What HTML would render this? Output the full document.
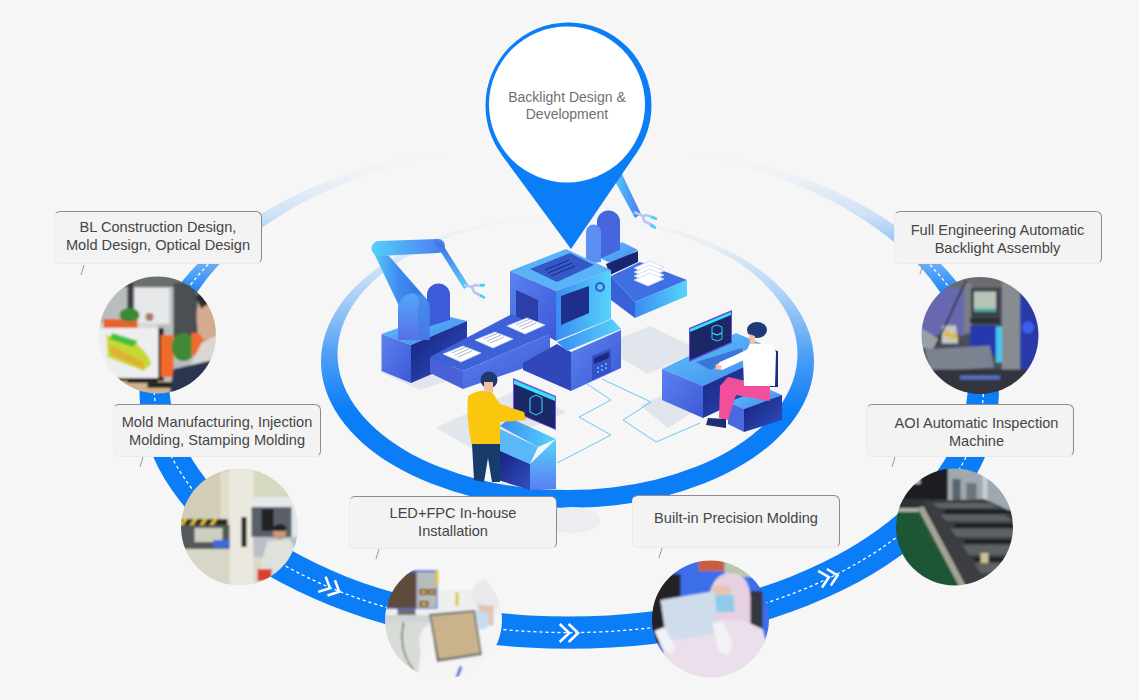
<!DOCTYPE html>
<html><head><meta charset="utf-8">
<style>
html,body{margin:0;padding:0;background:#f6f6f6;}
body{width:1139px;height:700px;overflow:hidden;position:relative;font-family:"Liberation Sans",sans-serif;}
svg{position:absolute;left:0;top:0;}
.lb{position:absolute;width:208px;height:53px;box-sizing:border-box;border-radius:6px;background:#f3f3f3;
border-top:1px solid #8c8c8c;border-right:1px solid #8c8c8c;border-left:1px solid #ebebeb;border-bottom:1px solid #ebebeb;
color:#454545;font-size:14.6px;line-height:18px;text-align:center;white-space:nowrap}
.tk{position:absolute;width:1px;height:10px;background:#999;transform:skewX(-17deg);}
</style></head><body>
<svg width="1139" height="700" viewBox="0 0 1139 700">
<defs>
<linearGradient id="gOut" gradientUnits="userSpaceOnUse" x1="0" y1="150" x2="0" y2="300">
<stop offset="0" stop-color="#0b7df7" stop-opacity="0"/>
<stop offset="0.167" stop-color="#0b7df7" stop-opacity="0.03"/>
<stop offset="0.433" stop-color="#0b7df7" stop-opacity="0.17"/>
<stop offset="0.733" stop-color="#0b7df7" stop-opacity="0.55"/>
<stop offset="1" stop-color="#0b7df7" stop-opacity="1"/>
</linearGradient>
<linearGradient id="gIn" gradientUnits="userSpaceOnUse" x1="0" y1="215" x2="0" y2="410">
<stop offset="0" stop-color="#0b7df7" stop-opacity="0"/>
<stop offset="0.16" stop-color="#0b7df7" stop-opacity="0.07"/>
<stop offset="0.36" stop-color="#0b7df7" stop-opacity="0.25"/>
<stop offset="0.52" stop-color="#0b7df7" stop-opacity="0.45"/>
<stop offset="0.7" stop-color="#0b7df7" stop-opacity="0.7"/>
<stop offset="1" stop-color="#0b7df7" stop-opacity="1"/>
</linearGradient>
<clipPath id="cDash"><rect x="0" y="250" width="1139" height="450"/></clipPath>
</defs>
<!-- outer band -->
<path fill="url(#gOut)" fill-rule="evenodd" d="M139.5,392.5 a429.7,256.3 0 1,0 859.4,0 a429.7,256.3 0 1,0 -859.4,0Z M168.9,379.6 a399.7,237 0 1,0 799.4,0 a399.7,237 0 1,0 -799.4,0Z"/>
<g clip-path="url(#cDash)">
<path fill="none" stroke="#fff" stroke-width="1.3" stroke-dasharray="3.2 2.8" d="M154.2,386 a414.7,246.6 0 1,0 829.4,0 a414.7,246.6 0 1,0 -829.4,0Z"/>
</g>
<!-- chevrons -->
<g fill="none" stroke="#fff" stroke-width="2.5">
<path transform="translate(569.2,633)" d="M-9.5,-9 L0,0 L-9.5,9 M-0.5,-9 L9,0 L-0.5,9"/>
<path transform="translate(330,588.2) rotate(26)" d="M-9,-8.5 L0,0 L-9,8.5"/>
<path transform="translate(339.3,591.8) rotate(26)" d="M-9,-8.5 L0,0 L-9,8.5"/>
<path transform="translate(828.9,577.2) rotate(-13)" d="M-9,-8.5 L0,0 L-9,8.5"/>
<path transform="translate(837.6,575.3) rotate(-13)" d="M-9,-8.5 L0,0 L-9,8.5"/>
</g>
<!-- inner ring -->
<path fill="url(#gIn)" fill-rule="evenodd" d="M321,361.5 a246.5,146.5 0 1,0 493,0 a246.5,146.5 0 1,0 -493,0Z M337.5,354 a230,136 0 1,0 460,0 a230,136 0 1,0 -460,0Z"/>
<!-- illustration placeholder -->
<g id="illu"><defs>
<linearGradient id="iTop" x1="0" y1="0" x2="1" y2="1"><stop offset="0" stop-color="#62c6fb"/><stop offset="1" stop-color="#3f86ee"/></linearGradient>
<linearGradient id="iLeft" x1="0" y1="0" x2="1" y2="1"><stop offset="0" stop-color="#5b83f0"/><stop offset="1" stop-color="#3d58d6"/></linearGradient>
<linearGradient id="iNavy" x1="0" y1="0" x2="1" y2="1"><stop offset="0" stop-color="#16207a"/><stop offset="1" stop-color="#3150c4"/></linearGradient>
<linearGradient id="iCyan" x1="0" y1="0" x2="1" y2="0"><stop offset="0" stop-color="#3a8cf2"/><stop offset="1" stop-color="#56d4fb"/></linearGradient>
<linearGradient id="iPil" x1="0" y1="0" x2="0" y2="1"><stop offset="0" stop-color="#4fa8f8"/><stop offset="1" stop-color="#5a6fe8"/></linearGradient>
<linearGradient id="iKio" x1="0" y1="0" x2="0" y2="1"><stop offset="0" stop-color="#56d4fb"/><stop offset="1" stop-color="#5a7df0"/></linearGradient>
<linearGradient id="iArmL" x1="0" y1="0" x2="1" y2="0"><stop offset="0" stop-color="#56cdfb"/><stop offset="0.45" stop-color="#3f8cf0"/><stop offset="1" stop-color="#2f6ce0"/></linearGradient>
<linearGradient id="iFore" x1="0" y1="0" x2="0" y2="1"><stop offset="0" stop-color="#3a6ee0"/><stop offset="1" stop-color="#5ad0fb"/></linearGradient>
<linearGradient id="iArm" x1="0" y1="0" x2="1" y2="0"><stop offset="0" stop-color="#55d0fb"/><stop offset="1" stop-color="#4a7af0"/></linearGradient>
</defs>
<!-- floor shadows -->
<g fill="#e1e6ec">
<polygon points="436,428 520,388 566,412 478,452"/>
<polygon points="600,346 650,326 700,350 648,374"/>
<polygon points="640,405 690,384 712,400 668,428"/>
<polygon points="380,372 420,390 450,380 400,360"/>
<ellipse cx="572" cy="520" rx="28" ry="13" fill="#ebedf0"/>
</g>
<!-- right robot -->
<polygon points="596,256 622,242 638,250 612,264" fill="url(#iTop)"/>
<polygon points="606,264 638,251 638,262 610,275" fill="#1a2572"/>
<path d="M597,260 V222 a11.5,11.5 0 0 1 23,0 V250 Z" fill="#4566dc"/>
<path d="M586,264 V232 a7.5,7.5 0 0 1 15,0 V262 Z" fill="#5b90f2"/>
<polygon points="612,176 622,174 641,214 635,218" fill="url(#iArm)"/>
<path d="M634,212 l9,4 M643,216 l3,-1 l9,3 M643,216 l1,5 l10,5" stroke="#b4c8f4" stroke-width="2.6" fill="none"/><path d="M651,217 l6,2 M650,225 l6,3" stroke="#48d0fa" stroke-width="2.6"/>
<!-- right conveyor -->
<polygon points="611,276 640,262 687,280 635,302" fill="#3f6fe2"/>
<polygon points="635,302 687,280 687,296 635,318" fill="url(#iCyan)"/>
<polygon points="611,276 635,302 635,318 611,300" fill="#3a60d8"/>
<g fill="#fff" stroke="#c9d4f4" stroke-width="0.8">
<polygon points="634,268 650,261 664,267 648,274"/>
<polygon points="634,272 650,265 664,271 648,278"/>
<polygon points="634,276 650,269 664,275 648,282"/>
<polygon points="634,280 650,273 664,279 648,286"/>
</g>
<!-- left robot base -->
<polygon points="381.5,334 438,314 467,321 411,345" fill="url(#iTop)"/>
<polygon points="381.5,334 411,345 411,383 381.5,371" fill="url(#iLeft)"/>
<polygon points="411,345 467,321 467,359 411,383" fill="url(#iNavy)"/>
<!-- left robot pillars -->
<path d="M427,327 V295 a11.5,11.5 0 0 1 23,0 V320 Z" fill="#3d5bd8"/>
<!-- left arm -->
<polygon points="372,249 389,256 430,303 399,306" fill="url(#iArmL)"/>
<path d="M398,340 V309 a15.8,15.8 0 0 1 31.6,0 V340 Z" fill="url(#iPil)"/>
<path d="M413.8,293.2 a15.8,15.8 0 0 1 15.8,15.8 V340 H418 V309 a12,12 0 0 0 -4.2,-15.8Z" fill="#3f7be8" opacity="0.6"/>
<path d="M379,241 L438,239 a7,7 0 0 1 0,14 L379,256 a7.5,7.5 0 0 1 0,-15Z" fill="url(#iArm)"/>
<polygon points="434,241 443,245 469,286 464,289" fill="url(#iFore)"/>
<path d="M464,285 l8,2 M472,287 l3,-2 l9,1 M472,287 l2,5 l9,5" stroke="#b4c8f4" stroke-width="2.6" fill="none"/><path d="M480,285 l5,0 M480,295 l5,3" stroke="#48d0fa" stroke-width="2.6"/>
<!-- central machine -->
<polygon points="510,271 566,249 611,270 556,291" fill="#5ab2f8"/>
<polygon points="510,271 556,291 556,341 510,315" fill="url(#iLeft)"/>
<polygon points="516,290 538,300 538,334 516,322" fill="#2c3fa8"/>
<polygon points="556,291 611,270 611,319 556,341" fill="url(#iCyan)"/>
<polygon points="530,269 570,253 594,265 557,282" fill="#3558c8"/>
<g stroke="#1a2a7a" stroke-width="1"><line x1="545" y1="270" x2="569" y2="260"/><line x1="548" y1="273" x2="572" y2="263"/><line x1="551" y1="276" x2="575" y2="266"/></g>
<polygon points="561,296 589,286 589,313 561,325" fill="#1e2f8a"/>
<circle cx="600" cy="287" r="4" fill="none" stroke="#3558c8" stroke-width="2"/>
<!-- left conveyor -->
<polygon points="430,357 512,314 550,334 463,371" fill="#3d62d8"/>
<polygon points="463,371 550,334 550,359 463,389" fill="url(#iLeft)"/>
<polygon points="430,357 463,371 463,389 430,373" fill="#4a60d8"/>
<g fill="#fff" stroke="#c9d4f4" stroke-width="0.8">
<polygon points="443,354 463,346 481,353 461,362"/>
<polygon points="475,340 495,332 513,339 493,348"/>
<polygon points="507,326 527,318 545,325 525,334"/>
</g>
<g stroke="#8a94b8" stroke-width="0.7">
<path d="M452,353 l14,-6 M455,355 l14,-6 M458,357 l14,-6"/>
<path d="M484,339 l14,-6 M487,341 l14,-6 M490,343 l14,-6"/>
<path d="M516,325 l14,-6 M519,327 l14,-6 M522,329 l14,-6"/>
</g>
<!-- console -->
<polygon points="523,363 557,344 571,352 571,391 523,370" fill="#2f47bb"/>
<polygon points="557,342 612,319 621,329 567,351" fill="url(#iCyan)"/>
<polygon points="571,352 621,330 621,368 571,391" fill="url(#iLeft)"/>
<polygon points="592,356 611,348 611,372 592,380" fill="#3550c8"/>
<polygon points="594,358 609,352 609,358 594,364" fill="#1b2a7a"/>
<g fill="#5fd6fb"><circle cx="598" cy="368" r="1"/><circle cx="602" cy="366" r="1"/><circle cx="606" cy="364" r="1"/><circle cx="598" cy="372" r="1"/><circle cx="602" cy="370" r="1"/><circle cx="606" cy="368" r="1"/></g>
<!-- cables -->
<g fill="none" stroke="#6cc6f6" stroke-width="1">
<path d="M587,384 L611,400 L579,417 L611,435 L557,463"/>
<path d="M602,379 L651,402 L623,420 L656,442 L700,423"/>
</g>
<!-- right desk -->
<polygon points="662,369 736,333 778,351 703,386" fill="url(#iTop)"/>
<polygon points="662,369 703,386 703,418 662,400" fill="url(#iLeft)"/>
<polygon points="703,386 778,351 778,383 703,418" fill="url(#iNavy)"/>
<polygon points="689,328 732,310 732,343 689,362" fill="#6a4ad8"/>
<polygon points="690,329 731,312 731,342 690,360" fill="#1b2868"/>
<polygon points="690,329 731,312 731,315 690,332" fill="#3ae0f8"/>
<polygon points="696,362 742,348 744,358 710,370" fill="#3a78d8"/>
<!-- stool -->
<polygon points="728,402 766,388 782,395 744,409" fill="url(#iTop)"/>
<polygon points="728,402 744,409 744,432 728,424" fill="#4a68e0"/>
<polygon points="744,409 782,395 782,420 744,432" fill="url(#iNavy)"/>
<rect x="770" y="351" width="8" height="36" fill="#1e2f80"/>
<!-- right person -->
<polygon points="770,386 770,401 736,395 728,420 719,418 720,386 728,377" fill="#f24f9a"/>
<path d="M708,418 l18,1 l0,9 l-20,-3 Z" fill="#1d2d6e"/>
<polygon points="750,343 772,345 776,352 775,386 744,386 743,360" fill="#fff"/>
<polygon points="750,348 744,360 722,370 716,366 720,362 738,354" fill="#fff"/>
<polygon points="716,364 722,366 721,370 715,369" fill="#f5c0a0"/>
<ellipse cx="757" cy="330" rx="10" ry="8" fill="#1e3a7a"/>
<polygon points="749,334 755,336 755,344 750,344" fill="#f5c0a0"/>
<g fill="none" stroke="#3ae0f8" stroke-width="0.9"><path d="M712,327 l5,-2 l5,2 v6 l-5,2 l-5,-2 Z M712,333 l5,2 l5,-2 v6 l-5,2 l-5,-2 Z"/></g>
<!-- kiosk + yellow person -->
<polygon points="500,426 510,418 556,439 538,447" fill="url(#iCyan)"/>
<polygon points="498,428 538,447 530,464 498,450" fill="#5ab8f8"/>
<polygon points="498,450 530,464 530,490 498,480" fill="url(#iNavy)"/>
<polygon points="530,464 556,439 556,489 530,490" fill="url(#iKio)"/>
<polygon points="513,378 556,396 556,430 513,412" fill="#7a50e0"/>
<polygon points="514,380 555,397 555,429 514,411" fill="#1b2868"/>
<polygon points="514,380 555,397 555,401 514,384" fill="#3ae0f8"/>
<path d="M536,395 l6,3 v14 l-6,3 l-6,-3 v-14 Z" fill="none" stroke="#3ae0f8" stroke-width="1"/>
<path d="M468,396 Q480,388 492,392 L500,404 L524,412 L526,420 L500,422 L500,446 L472,446 Q466,420 468,396Z" fill="#fbc70e"/>
<path d="M472,444 L500,444 L500,482 L492,482 L488,458 L484,482 L474,480Z" fill="#163c6c"/>
<circle cx="489" cy="380" r="8.5" fill="#1e3a70"/>
<rect x="484" y="382" width="9" height="10" fill="#f5c0a0"/>
</g>
<!-- pin -->
<circle cx="568.5" cy="105.5" r="83" fill="#0b7df7"/><polygon points="501.6,154.7 571,249 637,152.3" fill="#0b7df7"/>
<circle cx="567" cy="104.5" r="78" fill="#fff"/>
<text x="567" y="101.5" text-anchor="middle" font-family="Liberation Sans" font-size="14" fill="#707070">Backlight Design &amp;</text>
<text x="567" y="119" text-anchor="middle" font-family="Liberation Sans" font-size="14" fill="#707070">Development</text>
<!-- photos -->
<defs>
<clipPath id="cc"><circle cx="0" cy="0" r="58.5"/></clipPath>
<filter id="bl" x="-10%" y="-10%" width="120%" height="120%"><feGaussianBlur stdDeviation="1.2"/></filter>
</defs>
<!-- photo 1 office -->
<g transform="translate(157.5,335)" clip-path="url(#cc)"><g filter="url(#bl)">
<rect x="-60" y="-60" width="120" height="120" fill="#b9bdbd"/>
<rect x="-60" y="-60" width="120" height="12" fill="#6a6e70"/>
<rect x="-30" y="-52" width="6" height="45" fill="#3a3d40"/>
<rect x="-23" y="-47" width="35" height="36" fill="#e6e8ea"/>
<rect x="16" y="-52" width="24" height="55" fill="#4a4f52"/>
<rect x="40" y="-52" width="20" height="40" fill="#7a7e80"/>
<rect x="-60" y="-12" width="60" height="10" fill="#d8d8d4"/>
<rect x="-54" y="-16" width="34" height="9" fill="#e8602a"/>
<ellipse cx="-28" cy="-20" rx="10" ry="7" fill="#3a8a30"/>
<circle cx="-8" cy="-18" r="4" fill="#a57b60"/>
<rect x="-60" y="-7" width="63" height="52" fill="#eeeeee"/>
<rect x="1" y="-7" width="5" height="54" fill="#1a1a1a"/>
<rect x="-60" y="43" width="66" height="4" fill="#1a1a1a"/>
<polygon points="-51,0 -23,6 -10,20 -6,29 -14,36 -50,22" fill="#c8d830"/>
<polygon points="-45,-2 -20,6 -24,12 -48,4" fill="#40c040"/>
<polygon points="-48,10 -14,27 -14,34 -46,20" fill="#e0b030"/>
<rect x="3" y="0" width="13" height="42" fill="#f06a2a"/>
<ellipse cx="26" cy="12" rx="12" ry="14" fill="#3f8a35"/>
<rect x="34" y="-2" width="14" height="22" fill="#f06a2a"/>
<rect x="-40" y="46" width="60" height="14" fill="#cfb48e"/>
<rect x="-30" y="44" width="30" height="4" fill="#222"/>
<rect x="-10" y="47" width="26" height="6" fill="#2a2624"/>
<ellipse cx="50" cy="-18" rx="11" ry="24" fill="#d5ab90"/>
<path d="M38,-38 Q48,-48 60,-40 L60,-28 Q50,-34 44,-26 Z" fill="#2a2a2a"/>
<polygon points="44,8 60,0 60,40 30,36" fill="#d8d8d0"/>
<polygon points="16,34 60,24 60,60 12,60" fill="#2a3450"/>
</g></g>
<!-- photo 2 press -->
<g transform="translate(239.5,527)" clip-path="url(#cc)"><g filter="url(#bl)">
<rect x="-60" y="-60" width="120" height="120" fill="#dcd8c8"/>
<rect x="-60" y="-60" width="50" height="52" fill="#d2cdb6"/>
<rect x="-19" y="-56" width="9" height="50" fill="#e2dece"/>
<rect x="-10" y="-60" width="24" height="120" fill="#ebe9df"/>
<rect x="-60" y="-8" width="48" height="6" fill="#2a2a20"/>
<g fill="#e8c020"><polygon points="-56,-8 -52,-8 -56,-2 -60,-2"/><polygon points="-46,-8 -42,-8 -46,-2 -50,-2"/><polygon points="-36,-8 -32,-8 -36,-2 -40,-2"/><polygon points="-26,-8 -22,-8 -26,-2 -30,-2"/></g>
<rect x="-60" y="-2" width="50" height="24" fill="#55585a"/>
<rect x="-45" y="1" width="28" height="14" fill="#cfcfc0"/>
<rect x="-26" y="13" width="16" height="8" fill="#3a6ad8"/>
<rect x="-60" y="22" width="50" height="40" fill="#d8d6c6"/>
<rect x="2" y="-10" width="5" height="30" fill="#222"/>
<rect x="14" y="-60" width="46" height="30" fill="#d5d9c0"/>
<rect x="14" y="-30" width="46" height="40" fill="#e4e8ea"/>
<rect x="12" y="-20" width="40" height="30" fill="#5a6068"/>
<rect x="22" y="-18" width="12" height="22" fill="#222"/>
<rect x="14" y="10" width="46" height="20" fill="#b8c0c8"/>
<circle cx="40" cy="6" r="6.5" fill="#c89878"/>
<path d="M34,0 Q40,-6 47,0 L46,4 L34,4Z" fill="#222"/>
<polygon points="28,14 50,12 60,30 58,60 24,60 22,34" fill="#dfe1dc"/>
<rect x="18" y="42" width="14" height="12" fill="#d84030"/>
</g></g>
<!-- photo 3 LED -->
<g transform="translate(443.5,620)" clip-path="url(#cc)"><g filter="url(#bl)">
<rect x="-60" y="-60" width="120" height="120" fill="#eef0f0"/>
<rect x="-40" y="-60" width="100" height="30" fill="#f6f7f7"/>
<rect x="-58" y="-50" width="52" height="39" fill="#3a6ad8"/>
<rect x="-56" y="-48" width="29" height="36" fill="#5e4c3a"/>
<rect x="-27" y="-48" width="20" height="36" fill="#b4bcbc"/>
<g fill="#8a4a28"><rect x="-24" y="-31" width="8" height="6"/><rect x="-15" y="-31" width="7" height="6"/><rect x="-24" y="-19" width="9" height="6"/></g>
<g fill="#c8d848"><rect x="-22" y="-29" width="4" height="2"/><rect x="-13" y="-29" width="3" height="2"/><rect x="-22" y="-17" width="5" height="2"/></g>
<rect x="-46" y="-11" width="18" height="6" fill="#6a6e70"/>
<rect x="-60" y="-5" width="50" height="7" fill="#d0d4d4"/>
<rect x="-60" y="2" width="45" height="58" fill="#d8dcd6"/>
<path d="M-40,2 Q-46,30 -30,50" stroke="#1e1e1e" stroke-width="1" fill="none"/>
<rect x="-8" y="-50" width="3" height="16" fill="#e8c030"/>
<rect x="12" y="-28" width="3" height="14" fill="#e8c030"/>
<polygon points="-20,8 -10,4 40,20 60,20 60,60 -26,60" fill="#f5f5f7"/>
<polygon points="24,0 60,-6 60,60 4,60 20,40" fill="#f5f5f7"/>
<polygon points="-14.5,-6 31.5,-10 38.5,35 -6.5,42" fill="#6a6a6a"/>
<polygon points="-12.5,-4 30,-8 36.5,33 -4.5,39" fill="#c9b28c"/>
<ellipse cx="-17" cy="22" rx="7" ry="14" fill="#f2f2f4"/>
<ellipse cx="44" cy="-25" rx="16" ry="17" fill="#e8eaee"/>
<polygon points="34,-16 50,-14 50,6 38,4" fill="#e0c4b0"/>
<polygon points="32,-10 46,-6 44,8 36,10" fill="#c6dcef"/>
<rect x="14" y="46" width="3" height="12" fill="#3a6ad8" transform="rotate(20 15 52)"/>
</g></g>
<!-- photo 4 cleanroom -->
<g transform="translate(710.5,619)" clip-path="url(#cc)"><g filter="url(#bl)">
<rect x="-60" y="-60" width="120" height="120" fill="#3a6ee8"/>
<rect x="-60" y="-45" width="30" height="70" fill="#232428"/>
<rect x="-12" y="-60" width="26" height="12" fill="#c86040"/>
<rect x="14" y="-60" width="46" height="18" fill="#b8c8b0"/>
<rect x="34" y="-28" width="18" height="45" fill="#34363c"/>
<path d="M-2,-20 Q2,-46 20,-46 Q38,-46 40,-22 L40,10 L0,14 Z" fill="#e6d0e2"/>
<ellipse cx="11" cy="-28" rx="10" ry="6" fill="#e8c4b0"/>
<polygon points="1,-24 23,-24 24,-7 4,-7" fill="#8fcbe8"/>
<polygon points="-45,8 -10,2 30,0 52,10 60,40 60,60 -50,60" fill="#eadfea"/>
<polygon points="-50,-19 4,-28 8,14 -44,22" fill="#cfdcec"/>
<polygon points="-56,12 -46,8 -36,26 -38,36 -48,30" fill="#f2f2f6"/>
<polygon points="2,4 12,2 22,24 18,36 8,32" fill="#f2f2f6"/>
</g></g>
<!-- photo 5 AOI -->
<g transform="translate(954.5,527)" clip-path="url(#cc)"><g filter="url(#bl)">
<rect x="-60" y="-60" width="120" height="120" fill="#2e3234"/>
<rect x="-7" y="-60" width="67" height="44" fill="#9ea8ae"/>
<rect x="-2" y="-48" width="8" height="22" fill="#5a6470"/>
<rect x="12" y="-44" width="10" height="16" fill="#6a7480"/>
<rect x="28" y="-55" width="5" height="40" fill="#c8ced0"/>
<rect x="-50" y="-60" width="43" height="32" fill="#1c1e20"/>
<rect x="-40" y="-48" width="6" height="5" fill="#b0b0b0"/>
<polygon points="-60,-17 -36,-17 6,60 -60,60" fill="#1d5636"/>
<polygon points="-60,-19 -36,-19 -36,-15 -60,-15" fill="#a8b0a0"/>
<polygon points="-37,-19 -31,-21 12,60 5,60" fill="#a4a494"/>
<polygon points="-31,-26 30,-28 60,-14 60,60 12,60" fill="#3a3e40"/>
<g fill="#5e6264"><polygon points="-22,-24 36,-24 44,-19 -16,-19"/><polygon points="-14,-12 50,-12 58,-6 -8,-6"/><polygon points="-4,2 60,2 60,10 2,10"/><polygon points="8,18 60,18 60,28 14,28"/><polygon points="20,36 60,36 60,46 26,46"/></g>
<g fill="#16181a"><rect x="-10" y="-17" width="70" height="3"/><rect x="0" y="-3" width="60" height="3"/><rect x="10" y="13" width="50" height="3"/><rect x="20" y="31" width="40" height="3"/></g>
<rect x="26" y="26" width="8" height="10" fill="#c8c090"/>
</g></g>
<!-- photo 6 assembly -->
<g transform="translate(980,335.5)" clip-path="url(#cc)"><g filter="url(#bl)">
<rect x="-60" y="-60" width="120" height="120" fill="#4a4e5a"/>
<rect x="-60" y="-48" width="45" height="48" fill="#6868b0"/>
<rect x="-60" y="-60" width="120" height="12" fill="#6a6c70"/>
<rect x="-16" y="-52" width="8" height="50" fill="#7a7e86"/>
<rect x="-9" y="-47" width="28" height="28" fill="#3c4044"/>
<rect x="-6" y="-44" width="22" height="20" fill="#b8c4b8"/>
<rect x="-6" y="-27" width="22" height="3" fill="#40b0a0"/>
<rect x="-10" y="-18" width="30" height="6" fill="#2c3038"/>
<rect x="22" y="-55" width="18" height="110" fill="#868c90"/>
<rect x="40" y="-42" width="20" height="90" fill="#2a38a8"/>
<circle cx="48" cy="-8" r="6" fill="#3a60f0"/>
<rect x="16" y="-9" width="6" height="36" fill="#40c8f0"/>
<rect x="-10" y="-10" width="26" height="30" fill="#2838b0"/>
<polygon points="-60,-8 -40,4 -48,14 -60,12" fill="#9aa0a8"/>
<polygon points="-38,-10 -24,-10 -22,8 -38,8" fill="#c8c8c0"/>
<polygon points="-37,0 -32,-6 -28,2" fill="#d8b830"/><polygon points="-30,2 -25,-4 -21,4" fill="#d8b830"/>
<polygon points="-55,14 10,10 14,32 -50,36" fill="#7c8290"/>
<rect x="-60" y="34" width="120" height="26" fill="#30343e"/>
<rect x="-20" y="40" width="40" height="4" fill="#5a70c0"/>
<path d="M-14,-55 Q-30,-20 -44,10" stroke="#1a1a1a" stroke-width="1.5" fill="none"/>
</g></g>
</svg>
<div class="lb" style="left:54px;top:211px;padding-top:5.7px">BL Construction Design,<br>Mold Design, Optical Design</div>
<div class="tk" style="left:82px;top:265px"></div>
<div class="lb" style="left:113px;top:404px;padding-top:7.9px">Mold Manufacturing, Injection<br>Molding, Stamping Molding</div>
<div class="tk" style="left:141px;top:457px"></div>
<div class="lb" style="left:349px;top:496px;padding-top:6.9px">LED+FPC In-house<br>Installation</div>
<div class="tk" style="left:377px;top:549px"></div>
<div class="lb" style="left:632px;top:494.5px;padding-top:13.2px">Built-in Precision Molding</div>
<div class="tk" style="left:660px;top:548px"></div>
<div class="lb" style="left:866px;top:404px;padding-top:8.9px;padding-left:13px">AOI Automatic Inspection<br>Machine</div>
<div class="tk" style="left:893px;top:457px"></div>
<div class="lb" style="left:893.5px;top:210.5px;padding-top:9.4px">Full Engineering Automatic<br>Backlight Assembly</div>
<div class="tk" style="left:921px;top:264px"></div>
</body></html>
